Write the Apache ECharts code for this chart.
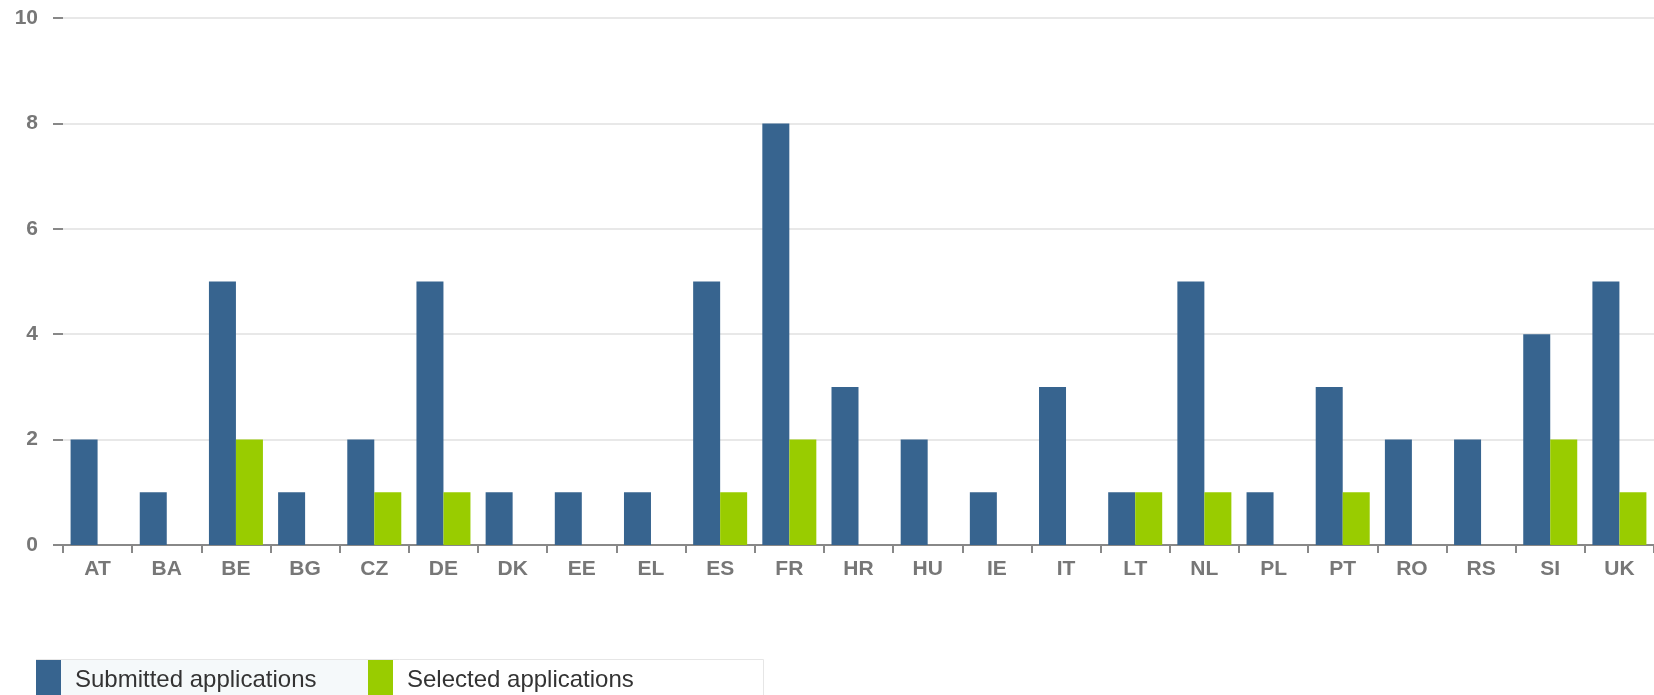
<!DOCTYPE html>
<html>
<head>
<meta charset="utf-8">
<script src="https://cdn.jsdelivr.net/npm/echarts@6/dist/echarts.min.js"></script>
<style>
html,body{margin:0;padding:0;background:#fff;}
#chart{width:1654px;height:695px;}
</style>
</head>
<body>
<div id="chart"></div>
<script>
const categories = ['AT','BA','BE','BG','CZ','DE','DK','EE','EL','ES','FR','HR','HU','IE','IT','LT','NL','PL','PT','RO','RS','SI','UK'];
const submitted = [2,1,5,1,2,5,1,1,1,5,8,3,2,1,3,1,5,1,3,2,2,4,5];
const selected  = [0,0,2,0,1,1,0,0,0,1,2,0,0,0,0,1,1,0,1,0,0,2,1];
const yTicks = [0,2,4,6,8,10];

const FONT = '"Liberation Sans", Arial, sans-serif';
const chart = echarts.init(document.getElementById('chart'), null, {renderer:'canvas'});
chart.setOption({
  animation: false,
  backgroundColor: '#ffffff',
  grid: {left: 63, right: -2, top: 18, bottom: 150, containLabel: false},
  xAxis: {
    type: 'category',
    data: categories,
    axisLine: {show: true, lineStyle: {color: '#888888', width: 2}},
    axisTick: {show: true, alignWithLabel: false, length: 8, lineStyle: {color: '#888888', width: 2}},
    axisLabel: {color: '#777777', fontSize: 21, fontWeight: 'bold', fontFamily: FONT, margin: 14}
  },
  yAxis: {
    type: 'value',
    min: yTicks[0], max: yTicks[yTicks.length-1], interval: 2,
    axisLine: {show: false},
    axisTick: {show: true, length: 10, lineStyle: {color: '#888888', width: 2}},
    axisLabel: {color: '#777777', fontSize: 21, fontWeight: 'bold', fontFamily: FONT, margin: 25},
    splitLine: {show: true, lineStyle: {color: '#e8e8e8', width: 2}}
  },
  legend: [
    {
      data: ['Submitted applications'],
      left: 36, top: 660, padding: 0,
      itemWidth: 25, itemHeight: 40, icon: 'rect',
      selectedMode: false,
      textStyle: {fontSize: 24, color: '#333333', fontFamily: FONT, padding: [0,0,0,9]}
    },
    {
      data: ['Selected applications'],
      left: 368, top: 660, padding: 0,
      itemWidth: 25, itemHeight: 40, icon: 'rect',
      selectedMode: false,
      textStyle: {fontSize: 24, color: '#333333', fontFamily: FONT, padding: [0,0,0,9]}
    }
  ],
  graphic: [
    {type: 'rect', z: -10, silent: true, shape: {x: 36, y: 659, width: 332, height: 40}, style: {fill: '#f5f9fa'}},
    {type: 'polyline', z: -9, silent: true, shape: {points: [[36,659.5],[763.5,659.5],[763.5,700]]}, style: {stroke: '#e6e6e6', fill: null, lineWidth: 1}}
  ],
  series: [
    {
      name: 'Submitted applications', type: 'bar', data: submitted,
      barWidth: 27, barGap: '0%',
      itemStyle: {color: '#37648f'}
    },
    {
      name: 'Selected applications', type: 'bar', data: selected,
      barWidth: 27, barGap: '0%',
      itemStyle: {color: '#99cc00'}
    }
  ]
});
</script>
</body>
</html>
